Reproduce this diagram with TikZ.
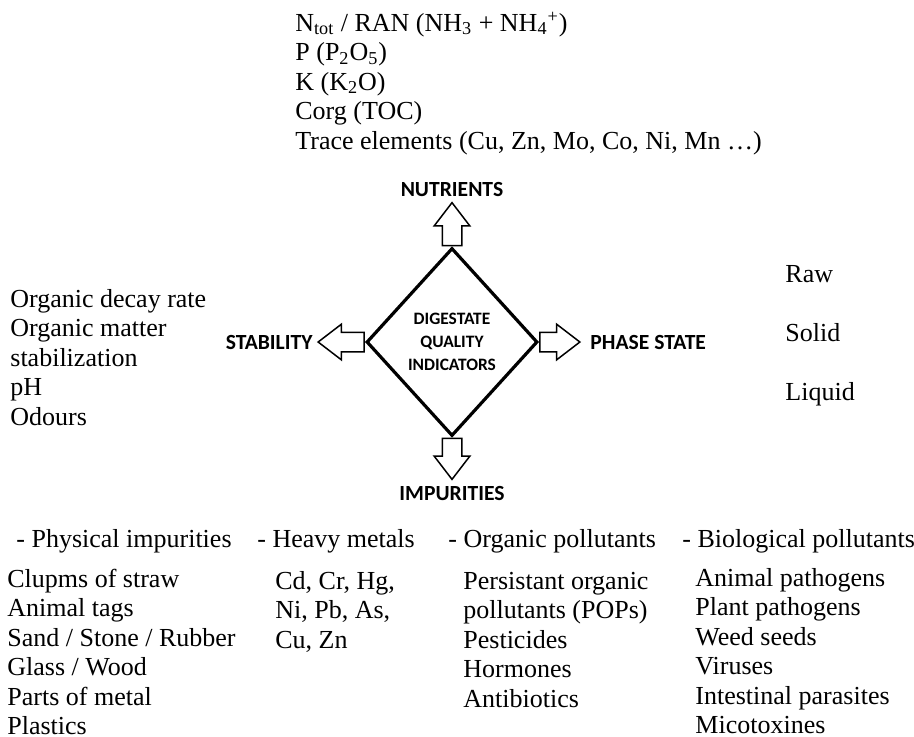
\documentclass[tikz,border=0pt]{standalone}
\usepackage{fontspec}
\setmainfont{Liberation Serif}
\newfontfamily\lblfont{Carlito}
\usetikzlibrary{shapes.geometric, shapes.arrows, positioning}

\begin{document}
\begin{tikzpicture}[x=0.5pt, y=-0.5pt,
  item/.style={anchor=base west, inner sep=0pt, align=left,
    font=\fontsize{13}{14.75}\selectfont},
  lbl/.style={inner sep=0pt, font=\lblfont\bfseries\fontsize{10.8}{13}\selectfont},
  blockarrow/.style={single arrow, draw, line width=0.75pt, inner sep=4.5pt,
    single arrow head extend=4pt, single arrow tip angle=75}]
  \useasboundingbox (0,0) rectangle (914,736);

  % centre
  \node[diamond, draw, line width=1.6pt, inner sep=1pt, minimum width=85.5pt,
    minimum height=94pt, align=center,
    font=\lblfont\bfseries\fontsize{8.7}{11.5}\selectfont] (dqi) at (452,342)
    {DIGESTATE\\QUALITY\\INDICATORS};

  \node[blockarrow, rotate=90, anchor=tail, minimum height=21.5pt] (upArr) at (dqi.north) {};
  \node[blockarrow, rotate=-90, anchor=tail, minimum height=20.5pt] (downArr) at (dqi.south) {};
  \node[blockarrow, rotate=180, anchor=tail, minimum height=23pt] (leftArr) at (dqi.west) {};
  \node[blockarrow, anchor=tail, minimum height=20pt] (rightArr) at (dqi.east) {};

  \node[lbl, anchor=south, above=2pt of upArr.tip] (nutr) {NUTRIENTS};
  \node[lbl, anchor=north, below=2.5pt of downArr.tip] (impur) {IMPURITIES};
  \node[lbl, anchor=east, left=2pt of leftArr.tip] (stab) {STABILITY};
  \node[lbl, anchor=west, right=4.5pt of rightArr.tip] (phase) {PHASE STATE};

  % nutrients (lists are placed by the baseline of their last line)
  \node[item] (nutrList) at (295,149) {N\textsubscript{tot} / RAN (NH\textsubscript{3} + NH\textsubscript{4}\textsuperscript{+})\\
    P (P\textsubscript{2}O\textsubscript{5})\\K (K\textsubscript{2}O)\\Corg (TOC)\\
    Trace elements (Cu, Zn, Mo, Co, Ni, Mn …)};

  % stability and phase state
  \node[item] (stabList) at (10,425) {Organic decay rate\\Organic matter\\stabilization\\pH\\Odours};
  \node[item] (phaseList) at (785,400) {Raw\\[14.75pt]Solid\\[14.75pt]Liquid};

  % impurities
  \node[item] (physHead) at (16,547) {- Physical impurities};
  \node[item] (metalHead) at (257,547) {- Heavy metals};
  \node[item] (orgHead) at (448,547) {- Organic pollutants};
  \node[item] (bioHead) at (682,547) {- Biological pollutants};

  \node[item] (physList) at (7,734.5) {Clupms of straw\\Animal tags\\Sand / Stone / Rubber\\
    Glass / Wood\\Parts of metal\\Plastics};
  \node[item] (metalList) at (275,648) {Cd, Cr, Hg,\\Ni, Pb, As,\\Cu, Zn};
  \node[item] (orgList) at (463,707) {Persistant organic\\pollutants (POPs)\\Pesticides\\
    Hormones\\Antibiotics};
  \node[item] (bioList) at (695,733.5) {Animal pathogens\\Plant pathogens\\Weed seeds\\Viruses\\
    Intestinal parasites\\Micotoxines};
\end{tikzpicture}
\end{document}
